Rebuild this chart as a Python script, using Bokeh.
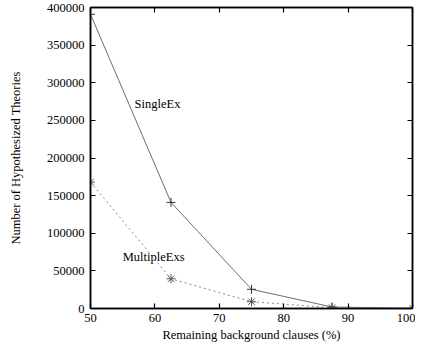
from bokeh.plotting import figure
from bokeh.models import Range1d, LinearAxis, NumeralTickFormatter, FixedTicker, Label, CustomJSTickFormatter
from bokeh.embed import file_html
from bokeh.resources import INLINE

# Data
x_vals = [50, 62.5, 75, 87.5, 100]
single_ex = [391000, 141000, 25500, 2000, 300]
multiple_exs = [168000, 39500, 9000, 1200, 200]
x_ticks = [50, 60, 70, 80, 90, 100]
y_ticks = [0, 50000, 100000, 150000, 200000, 250000, 300000, 350000, 400000]
series_labels = ["SingleEx", "MultipleExs"]
label_pos = [(60.4, 272000), (59.8, 68000)]

FONT = "'Liberation Serif', 'Times New Roman', Times, serif"

p = figure(width=415, height=344, output_backend="svg", toolbar_location=None,
           x_range=Range1d(50, 100), y_range=Range1d(0, 400000),
           x_axis_label="Remaining background clauses (%)",
           y_axis_label="Number of Hypothesized Theories",
           min_border_top=7, min_border_right=3, min_border_left=90, min_border_bottom=0)

p.grid.visible = False
p.outline_line_color = "black"
p.outline_line_width = 1.5
p.background_fill_color = "white"
p.border_fill_color = "white"

for ax in [p.xaxis[0], p.yaxis[0]]:
    ax.major_tick_in = 5
    ax.major_tick_out = 0
    ax.minor_tick_line_color = None
    ax.axis_line_color = "black"
    ax.axis_line_width = 1.5
    ax.major_tick_line_color = "black"
    ax.major_tick_line_width = 1.2
    ax.major_label_text_font = FONT
    ax.major_label_text_font_size = "12.5px"
    ax.major_label_text_color = "black"
    ax.axis_label_text_font = FONT
    ax.axis_label_text_font_size = "12.5px"
    ax.axis_label_text_font_style = "normal"
    ax.axis_label_text_color = "black"

p.xaxis[0].ticker = FixedTicker(ticks=x_ticks)
p.yaxis[0].ticker = FixedTicker(ticks=y_ticks)
p.yaxis[0].formatter = NumeralTickFormatter(format="0")
p.xaxis[0].major_label_standoff = 5
p.yaxis[0].major_label_standoff = 6
p.xaxis[0].axis_label_standoff = 3
p.yaxis[0].axis_label_standoff = 21

# mirror axes (ticks only)
blank = CustomJSTickFormatter(code="return ''")
top = LinearAxis(ticker=FixedTicker(ticks=x_ticks), formatter=blank)
right = LinearAxis(ticker=FixedTicker(ticks=y_ticks), formatter=blank)
for ax in [top, right]:
    ax.major_tick_in = 5
    ax.major_tick_out = 0
    ax.minor_tick_line_color = None
    ax.axis_line_color = "black"
    ax.axis_line_width = 1.5
    ax.major_tick_line_color = "black"
    ax.major_tick_line_width = 1.2
    ax.major_label_standoff = 0
    ax.major_label_text_font_size = "0px"
p.add_layout(top, "above")
p.add_layout(right, "right")

# Series
p.line(x_vals, single_ex, line_color="#6e6e6e", line_width=1)
p.scatter(x_vals, single_ex, marker="cross", size=9, line_color="#333333", line_width=1)

p.line(x_vals, multiple_exs, line_color="#8a8a8a", line_width=1, line_dash="2 3")
p.scatter(x_vals, multiple_exs, marker="asterisk", size=9, line_color="#555555", line_width=1)

for txt, (lx, ly) in zip(series_labels, label_pos):
    p.add_layout(Label(x=lx, y=ly, text=txt, text_font=FONT, text_font_size="12.5px",
                       text_align="center", text_baseline="middle", text_color="black"))

open("out.html", "w").write(file_html(p, INLINE))
